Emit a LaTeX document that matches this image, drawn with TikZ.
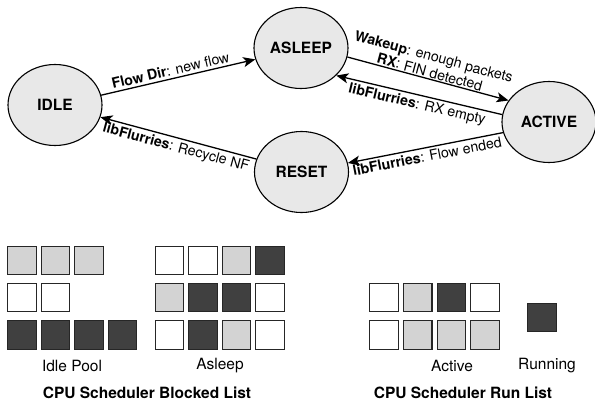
\documentclass[tikz,border=0pt]{standalone}
\usepackage{fontspec}
\setmainfont{TeX Gyre Heros}
\usetikzlibrary{shapes.geometric, arrows.meta}

\definecolor{stategray}{HTML}{E8E8E8}
\definecolor{litegray}{HTML}{D3D3D3}
\definecolor{darkcell}{HTML}{404040}

\tikzset{
  state/.style={ellipse, draw, line width=1.1pt, fill=stategray,
    minimum width=94pt, minimum height=81pt, inner sep=0pt,
    font=\bfseries\fontsize{15.5}{18}\selectfont},
  trans/.style={line width=1.3pt, -{Stealth[length=12pt, width=10pt, inset=3pt]}},
  lbl/.style={font=\fontsize{14.2}{16}\selectfont, sloped, inner sep=2.5pt},
  cell/.style={draw=black!85, line width=1.2pt, minimum size=28.5pt, inner sep=0pt},
  cellW/.style={cell, fill=white},
  cellL/.style={cell, fill=litegray},
  cellD/.style={cell, fill=darkcell},
  caption/.style={font=\fontsize{15.5}{18}\selectfont},
  title/.style={font=\bfseries\fontsize{15.5}{18}\selectfont}
}

\begin{document}
\begin{tikzpicture}[x=1pt, y=-1pt]
  \useasboundingbox (0,0) rectangle (595,407);

  % States
  \node[state] (idle)   at (55,105)    {IDLE};
  \node[state] (asleep) at (301,48)    {ASLEEP};
  \node[state] (active) at (549,122)   {ACTIVE};
  \node[state] (reset)  at (301.5,172) {RESET};

  % Transitions
  \draw[trans] (idle.12) -- (asleep.194)
    node[lbl, midway, above, xshift=-6pt] {\textbf{Flow Dir}: new flow};
  \draw[trans] (asleep.-11) -- (active.152)
    node[lbl, midway, above, align=center, inner sep=1pt]
      {\textbf{Wakeup}: enough packets\\ \textbf{RX}: FIN detected};
  \draw[trans] (active.171) -- (asleep.-38)
    node[lbl, midway, below] {\textbf{libFlurries}: RX empty};
  \draw[trans] (active.193) -- (reset.11)
    node[lbl, midway, below] {\textbf{libFlurries}: Flow ended};
  \draw[trans] (reset.164) -- (idle.-15)
    node[lbl, midway, below] {\textbf{libFlurries}: Recycle NF};

  % Idle pool
  \foreach \s [count=\i from 0] in {L,L,L}
    \node[cell\s] (idleA\i) at (22+33.5*\i,260.5) {};
  \foreach \s [count=\i from 0] in {W,W}
    \node[cell\s] (idleB\i) at (22+33.5*\i,297.5) {};
  \foreach \s [count=\i from 0] in {D,D,D,D}
    \node[cell\s] (idleC\i) at (22+33.5*\i,335) {};

  % Asleep
  \foreach \s [count=\i from 0] in {W,W,L,D}
    \node[cell\s] (sleepA\i) at (169.5+33.5*\i,260.5) {};
  \foreach \s [count=\i from 0] in {L,D,D,W}
    \node[cell\s] (sleepB\i) at (169.5+33.5*\i,297.5) {};
  \foreach \s [count=\i from 0] in {W,D,L,W}
    \node[cell\s] (sleepC\i) at (169.5+33.5*\i,335) {};

  % Active
  \foreach \s [count=\i from 0] in {W,L,D,W}
    \node[cell\s] (runA\i) at (384+33.7*\i,297.5) {};
  \foreach \s [count=\i from 0] in {W,L,L,L}
    \node[cell\s] (runB\i) at (384+33.7*\i,335) {};

  % Running
  \node[cellD] (running) at (542,317.5) {};

  % Captions
  \node[caption] (idlecap)    at (72,366)  {Idle Pool};
  \node[caption] (sleepcap)   at (220,366) {Asleep};
  \node[caption] (activecap)  at (452,366) {Active};
  \node[caption] (runningcap) at (547,366) {Running};
  \node[title] (blocked) at (147,393) {CPU Scheduler Blocked List};
  \node[title] (runlist) at (463,393) {CPU Scheduler Run List};
\end{tikzpicture}
\end{document}
